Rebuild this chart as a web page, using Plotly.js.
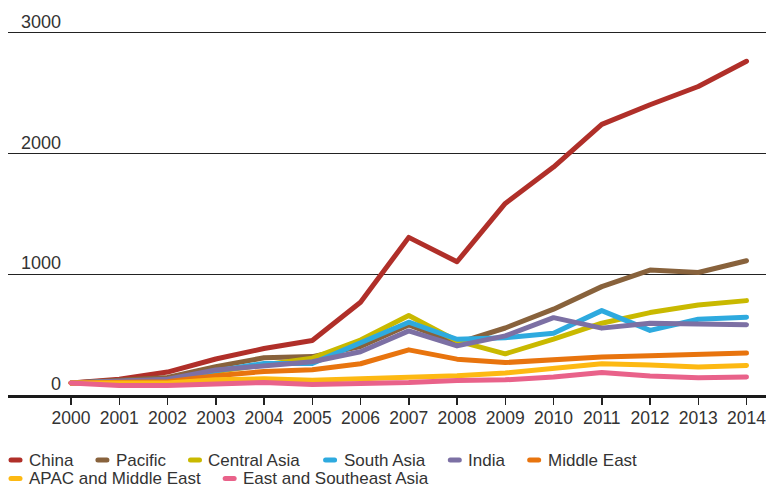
<!DOCTYPE html>
<html>
<head>
<meta charset="utf-8">
<script src="https://cdn.plot.ly/plotly-3.0.1.min.js"></script>
<style>
  html, body { margin: 0; padding: 0; background: #fff; }
  #chart { width: 766px; height: 486px; }
  #chart .scatterlayer path.js-line { stroke-linecap: round !important; stroke-linejoin: round !important; }
  #chart .shapelayer path { stroke-linecap: round !important; }
</style>
</head>
<body>
<div id="chart"></div>
<script>
// ---- data (indexed, 2000 = 100) ----
const years = [2000, 2001, 2002, 2003, 2004, 2005, 2006, 2007, 2008, 2009, 2010, 2011, 2012, 2013, 2014];

const china        = [100, 130, 190, 298, 385, 452, 768, 1306, 1104, 1587, 1889, 2242, 2405, 2556, 2765];
const pacific      = [100, 120, 145, 235, 308, 318, 402, 580, 430, 555, 711, 898, 1035, 1015, 1112];
const centralAsia  = [100, 110, 120, 195, 250, 305, 455, 658, 448, 341, 463, 595, 683, 746, 782];
const southAsia    = [100, 110, 125, 200, 262, 262, 432, 603, 462, 475, 512, 699, 535, 628, 645];
const india        = [100, 115, 131, 208, 243, 275, 358, 531, 407, 490, 641, 554, 595, 585, 583];
const middleEast   = [100, 105, 110, 159, 195, 210, 259, 374, 297, 269, 292, 314, 325, 333, 347];
const apacMidEast  = [100, 100, 100, 126, 134, 123, 135, 149, 160, 182, 215, 258, 248, 231, 245];
const eastSEAsia   = [100, 78, 78, 96, 104, 88, 93, 104, 121, 126, 149, 186, 158, 142, 149];

const seriesNames  = ["China", "Pacific", "Central Asia", "South Asia", "India", "Middle East",
                      "APAC and Middle East", "East and Southeast Asia"];
const seriesValues = [china, pacific, centralAsia, southAsia, india, middleEast, apacMidEast, eastSEAsia];
const seriesColors = ["#b02f29", "#88623c", "#c9b900", "#2eaadf", "#7c70a4", "#e8740e", "#fdb913", "#e9628a"];

const yTickValues = [0, 1000, 2000, 3000];
const yTickLabels = ["0", "1000", "2000", "3000"];

// ---- layout geometry ----
const W = 766, H = 486;
const M = { l: 8, r: 0, t: 20, b: 91 };
const plotW = W - M.l - M.r, plotH = H - M.t - M.b;
const px2paperX = px => (px - M.l) / plotW;
const px2paperY = py => (H - M.b - py) / plotH;

const textColor = "#333333";
const FONT = '"Liberation Sans", Arial, sans-serif';

const traces = seriesNames.map((name, i) => ({
  type: "scatter",
  mode: "lines",
  name: name,
  x: years,
  y: seriesValues[i],
  line: { color: seriesColors[i], width: 5, shape: "linear" },
  hoverinfo: "x+y+name"
}));

const annotations = [];
const shapes = [];

// y tick labels sitting above the gridlines
yTickValues.forEach((v, i) => {
  annotations.push({
    xref: "paper", yref: "y", x: px2paperX(63), y: v,
    xanchor: "right", yanchor: "middle", yshift: 11,
    text: yTickLabels[i], showarrow: false,
    font: { family: FONT, size: 18, color: textColor }
  });
});

// custom legend (short marker + label), laid out by measured text widths
const ctx = document.createElement("canvas").getContext("2d");
ctx.font = '17px "Liberation Sans"';
let lx = 8, row = 0;
seriesNames.forEach((name, i) => {
  const tw = ctx.measureText(name).width;
  const itemW = 20 + tw;
  if (lx + itemW > W && lx > 8) { row++; lx = 8; }
  const ly = 460 + row * 18.5;
  shapes.push({
    type: "line", xref: "paper", yref: "paper",
    x0: px2paperX(lx + 3), x1: px2paperX(lx + 12),
    y0: px2paperY(ly), y1: px2paperY(ly),
    line: { color: seriesColors[i], width: 5 }
  });
  annotations.push({
    xref: "paper", yref: "paper", x: px2paperX(lx + 19), y: px2paperY(ly),
    xanchor: "left", yanchor: "middle",
    text: name, showarrow: false,
    font: { family: FONT, size: 17, color: textColor }
  });
  lx += itemW + 22.5;
});

const layout = {
  width: W, height: H,
  margin: M,
  paper_bgcolor: "#ffffff",
  plot_bgcolor: "#ffffff",
  showlegend: false,
  font: { family: FONT, color: textColor },
  xaxis: {
    range: [1998.694, 2014.404],
    tickvals: years,
    ticktext: years.map(String),
    ticks: "outside", ticklen: 7, tickwidth: 1.5, tickcolor: "#222",
    ticklabeloverflow: "allow",
    ticklabelstandoff: -2,
    showline: true, linewidth: 3, linecolor: "#1a1a1a",
    showgrid: false, zeroline: false,
    tickfont: { family: FONT, size: 17.5, color: textColor },
    fixedrange: true
  },
  yaxis: {
    range: [0, 3107],
    tickvals: [1000, 2000, 3000],
    showticklabels: false,
    ticks: "",
    showgrid: true, gridcolor: "#222", gridwidth: 1,
    zeroline: false, showline: false,
    fixedrange: true
  },
  annotations: annotations,
  shapes: shapes
};

Plotly.newPlot("chart", traces, layout, { displayModeBar: false, staticPlot: true });
</script>
</body>
</html>
